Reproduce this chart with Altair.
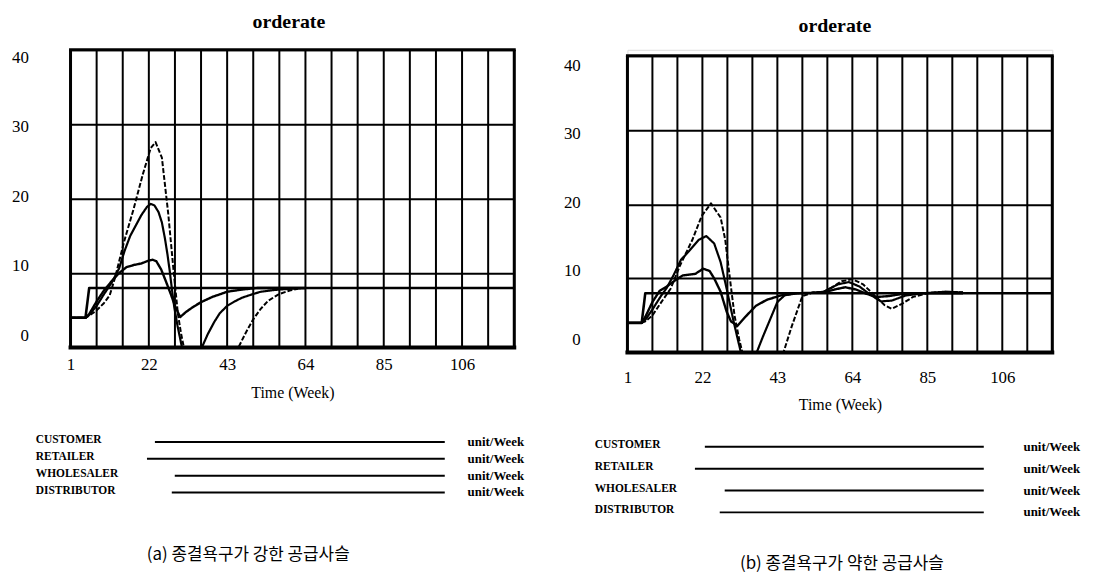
import altair as alt
import pandas as pd

# ---------------- data ----------------
SERIES = ["CUSTOMER", "RETAILER", "WHOLESALER", "DISTRIBUTOR"]
UNIT = "unit/Week"
TITLE = "orderate"
X_TITLE = "Time (Week)"
X_TICK_LABELS = [1, 22, 43, 64, 85, 106]
Y_TICK_LABELS = [0, 10, 20, 30, 40]
GRID_WEEKS = [1, 8, 15, 22, 29, 36, 43, 50, 57, 64, 71, 78, 85, 92, 99, 106, 113, 120]
X_DOMAIN = [1, 120]
Y_DOMAIN = [0, 40]
CAPTION_A = "(a) 종결욕구가 강한 공급사슬"
CAPTION_B = "(b) 종결욕구가 약한 공급사슬"

# Panel (a)
A_CUSTOMER_WK = [1, 5, 6, 120]
A_CUSTOMER = [4, 4, 8, 8]
A_RETAILER_WK = [1, 5, 6, 8, 10, 12, 14, 16, 18, 20, 22, 23, 24, 25.3, 26.5, 27.8, 29.1, 30.4,
                 32, 34, 36, 39, 43, 47, 51, 57, 64]
A_RETAILER = [4, 4, 4.5, 6.2, 7.7, 8.9, 10.0, 10.8, 11.1, 11.3, 11.7, 11.8, 11.6, 10.5, 9.0, 7.3, 5.5, 4.1,
              4.8, 5.5, 6.1, 6.8, 7.5, 7.8, 8.0, 8.0, 8.0]
A_WHOLESALER_WK = [1, 5, 6, 8, 10, 12, 14, 15.5, 17, 18.5, 20, 21.5, 22.5, 23.5, 24.6, 25.5, 26.3, 27,
                   27.6, 28.2, 28.8, 29.7, 30.9, 36.2, 37.8, 39.5, 41, 43, 45, 47, 50, 52, 55, 57, 60, 64]
A_WHOLESALER = [4, 4, 4.4, 5.6, 7.2, 8.7, 10.6, 13.0, 15.0, 16.4, 17.8, 18.9, 19.3, 19.1, 18.2, 16.8, 14.7, 12.5,
                10.3, 7.8, 5.5, 2.9, 0, 0, 1.8, 3.4, 4.6, 5.6, 6.2, 6.7, 7.2, 7.5, 7.7, 7.8, 7.9, 8.0]
A_DISTRIBUTOR_WK = [1, 5, 6, 8, 10, 11.5, 13, 15.4, 17.9, 20.4, 22.5, 23.8, 25.5, 27.2, 28.6, 29.8, 30.6,
                    31.4, 46, 48, 50, 52, 54, 57, 60, 62]
A_DISTRIBUTOR = [4, 4, 4.3, 5.0, 6.0, 7.0, 9.5, 14.3, 18.6, 23.3, 26.8, 27.6, 25.5, 18.0, 10.5, 4.5, 2.0,
                 0, 0, 2.0, 3.8, 5.2, 6.3, 7.2, 7.7, 7.9]

# Panel (b)
B_CUSTOMER_WK = [1, 5, 6, 120]
B_CUSTOMER = [4, 4, 8, 8]
B_RETAILER_WK = [1, 5, 6, 8, 10, 12, 14, 16.5, 20, 22.2, 24, 25.3, 27.1, 28.8, 30, 31.8, 34, 37, 40, 44,
                 49, 56, 59, 62, 65, 68, 71, 74, 78, 85, 95]
B_RETAILER = [4, 4, 4.8, 6.8, 8.3, 8.9, 9.6, 10.4, 10.6, 11.3, 11.0, 10.0, 8.2, 5.5, 4.2, 3.6, 4.8, 6.3, 7.1, 7.7,
              8.0, 8.1, 8.5, 8.8, 8.5, 7.9, 7.5, 7.6, 7.9, 8.0, 8.0]
B_WHOLESALER_WK = [1, 5, 6, 8, 10.5, 12, 14, 16, 18.3, 21, 23.1, 25.3, 27.1, 28.8, 30.6, 31.9, 32.8, 37.2,
                   39, 41, 43, 45, 48, 52, 56, 60, 63, 66, 69, 72, 75, 79, 84, 90, 95]
B_WHOLESALER = [4, 4, 4.4, 5.8, 7.7, 8.7, 10.5, 12.5, 13.7, 15.2, 15.7, 14.7, 12.2, 8.6, 4.5, 1.8, 0, 0,
                2.2, 4.5, 6.8, 7.7, 8.0, 8.0, 8.2, 9.2, 9.5, 8.9, 7.8, 6.9, 7.0, 7.7, 8.0, 8.2, 8.1]
B_DISTRIBUTOR_WK = [1, 5, 6, 8, 10.5, 13.1, 15.7, 19.2, 21.8, 24.4, 27.1, 28.4, 29.7, 31, 32.3, 33.2, 44.7,
                    47, 50, 53, 56, 58, 61, 64, 67, 70, 73, 75, 78, 81, 85, 90, 95]
B_DISTRIBUTOR = [4, 4, 4.2, 5.0, 6.8, 8.6, 11.7, 15.2, 18.4, 20.1, 18.2, 15.2, 10.0, 5.0, 1.8, 0, 0,
                 3.5, 7.6, 8.1, 8.2, 8.7, 9.6, 9.9, 9.2, 7.8, 6.4, 5.9, 6.6, 7.5, 8.0, 8.2, 8.1]

# ---------------- styling ----------------
SERIF = "Liberation Serif"
KFONT = "Noto Sans CJK KR"
WIDTHS = [2.6, 2.0, 2.6, 1.1]
DASHES = [[1, 0], [1, 0], [1, 0], [5, 2]]


def frame(weeks_vals):
    rows = []
    for name, (wk, vals) in zip(SERIES, weeks_vals):
        for w, v in zip(wk, vals):
            rows.append({"series": name, "week": w, "value": v})
    return pd.DataFrame(rows)


def panel(df, W, H, lay):
    label_expr = ("indexof([" + ",".join(str(v) for v in X_TICK_LABELS) +
                  "], datum.value) >= 0 ? datum.value : ''")
    xs = alt.Scale(domain=X_DOMAIN, nice=False, zero=False)
    ys = alt.Scale(domain=Y_DOMAIN, nice=False, zero=False, range=lay["yrange"])
    xax = alt.Axis(values=GRID_WEEKS, labelExpr=label_expr, grid=False, ticks=False,
                   domain=False, labelPadding=lay["xlp"], labelFont=SERIF,
                   labelFontSize=17, labelColor="black", labelFlush=False,
                   labelOverlap=False, title=X_TITLE, titleFont=SERIF,
                   titleFontSize=16, titleFontWeight="normal", titleColor="black",
                   titlePadding=lay["xtp"])
    yax = alt.Axis(values=Y_TICK_LABELS, labels=False, ticks=False, domain=False,
                   grid=True, title=None, gridColor="black", gridWidth=2, gridOpacity=1)

    lines = alt.Chart(df).mark_line(color="black", strokeCap="butt", strokeJoin="round").encode(
        x=alt.X("week:Q", scale=xs, axis=xax),
        y=alt.Y("value:Q", scale=ys, axis=yax),
        detail="series:N",
        strokeWidth=alt.StrokeWidth("series:N", scale=alt.Scale(domain=SERIES, range=WIDTHS),
                                    legend=None),
        strokeDash=alt.StrokeDash("series:N", scale=alt.Scale(domain=SERIES, range=DASHES),
                                  legend=None),
    )

    vgrid = alt.Chart(pd.DataFrame({"w": GRID_WEEKS})).mark_rule(
        color="black", strokeWidth=2).encode(
        x=alt.X("w:Q", scale=xs, axis=xax), y=alt.datum(Y_DOMAIN[0], scale=ys, axis=yax),
        y2=alt.datum(Y_DOMAIN[1]))

    fv = alt.Chart(pd.DataFrame({"w": X_DOMAIN})).mark_rule(
        color="black", strokeWidth=3).encode(
        x=alt.X("w:Q", scale=xs, axis=xax), y=alt.datum(Y_DOMAIN[0], scale=ys, axis=yax),
        y2=alt.datum(Y_DOMAIN[1]))
    fh = alt.Chart(pd.DataFrame({"v": Y_DOMAIN, "sw": [4, 3]})).mark_rule(
        color="black", strokeCap="square").encode(
        y=alt.Y("v:Q", scale=ys, axis=yax), x=alt.datum(X_DOMAIN[0], scale=xs, axis=xax),
        x2=alt.datum(X_DOMAIN[1]),
        strokeWidth=alt.StrokeWidth("sw:Q", scale=None, legend=None))

    ylabels = alt.Chart(pd.DataFrame({"v": Y_TICK_LABELS})).mark_text(
        align="right", baseline="middle", font=SERIF, fontSize=17, color="black"
    ).encode(
        y=alt.Y("v:Q", scale=alt.Scale(domain=lay["ydom"], nice=False, zero=False,
                                       range=lay["yrange"]), axis=None),
        x=alt.value(lay["ylx"]),
        text="v:Q",
    )

    title = alt.Chart(pd.DataFrame({"t": [TITLE]})).mark_text(
        align="center", baseline="alphabetic", font=SERIF, fontSize=20, fontWeight="bold",
        color="black").encode(x=alt.value(lay["tix"]), y=alt.value(lay["tiy"]), text="t:N")

    main = alt.layer(lines, vgrid, fv, fh)
    layers = [main, ylabels, title]
    for i, s in enumerate(SERIES):
        d = pd.DataFrame({"s": [s], "u": [UNIT]})
        ry = lay["rows"][i]
        layers.append(alt.Chart(d).mark_text(
            align="left", baseline="middle", font=SERIF, fontSize=11.5, fontWeight="bold",
            color="black").encode(x=alt.value(lay["tx"]), y=alt.value(ry), text="s:N"))
        layers.append(alt.Chart(d).mark_rule(color="black", strokeWidth=2).encode(
            x=alt.value(lay["rx1"][i]), x2=alt.value(lay["rx2"]), y=alt.value(ry + 2)))
        layers.append(alt.Chart(d).mark_text(
            align="left", baseline="middle", font=SERIF, fontSize=13, fontWeight="bold",
            color="black").encode(x=alt.value(lay["ux"]), y=alt.value(ry + 2), text="u:N"))

    cap = pd.DataFrame({"c": [lay["caption"]]})
    layers.append(alt.Chart(cap).mark_text(
        align="center", baseline="middle", font=KFONT, fontSize=17, color="black"
    ).encode(x=alt.value(lay["cx"]), y=alt.value(lay["cy"]), text="c:N"))

    box = pd.DataFrame({"b": [0]})
    layers.append(alt.Chart(box).mark_rect(opacity=0).encode(
        x=alt.value(lay["bx"][0]), x2=alt.value(lay["bx"][1]),
        y=alt.value(lay["by"][0]), y2=alt.value(lay["by"][1])))

    return alt.layer(*layers).resolve_scale(y="independent").properties(width=W, height=H)


df_a = frame([(A_CUSTOMER_WK, A_CUSTOMER), (A_RETAILER_WK, A_RETAILER),
              (A_WHOLESALER_WK, A_WHOLESALER), (A_DISTRIBUTOR_WK, A_DISTRIBUTOR)])
df_b = frame([(B_CUSTOMER_WK, B_CUSTOMER), (B_RETAILER_WK, B_RETAILER),
              (B_WHOLESALER_WK, B_WHOLESALER), (B_DISTRIBUTOR_WK, B_DISTRIBUTOR)])

# panel (a): plot 47..347 ; panel (b): plot 53..352 drawn in a view starting at 47
lay_a = dict(xlp=9, xtp=12, ydom=[-1.714, 41.143], ylx=-42, tx=-35, yrange=[300, 0],
             rows=[393, 410, 427, 444], rx1=[85, 77, 105, 102], rx2=377, ux=400,
             caption=CAPTION_A, cx=179, cy=509, bx=[-62, 488], by=[-39, 528],
             tix=220, tiy=-22)
lay_b = dict(xlp=17, xtp=11, ydom=[-1.877, 41.44], ylx=-47, tx=-33, yrange=[305, 6],
             rows=[398, 420, 442, 464], rx1=[78, 68, 98, 93], rx2=359, ux=399,
             caption=CAPTION_B, cx=216, cy=518, bx=[-71, 465], by=[-39, 528],
             tix=209, tiy=-18)

chart_a = panel(df_a, 447, 300, lay_a)
chart_b = panel(df_b, 428, 305, lay_b)

chart = alt.hconcat(chart_a, chart_b, spacing=0, padding=0).configure_view(
    stroke="transparent", strokeWidth=0
).configure(background="white")

chart.save("out.html", embed_options={"renderer": "svg", "actions": False})
